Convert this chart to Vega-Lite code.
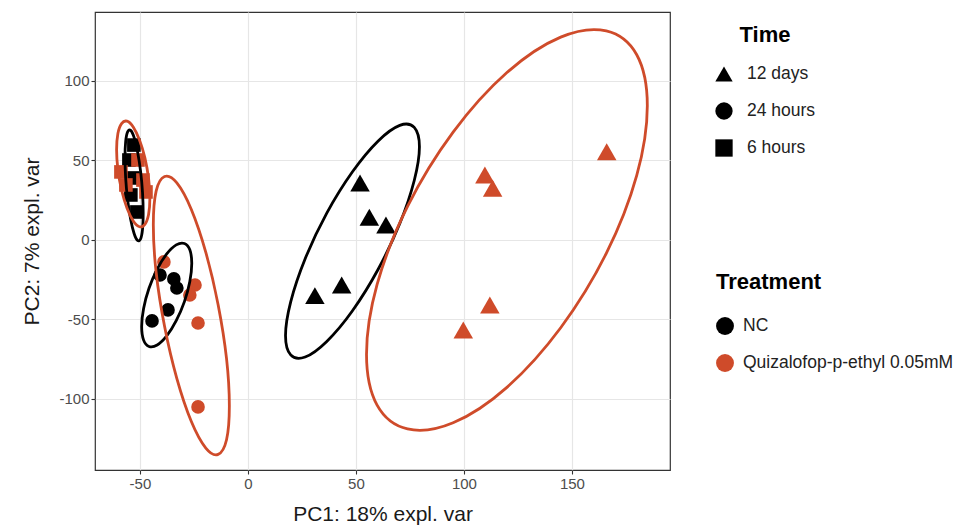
{
  "$schema": "https://vega.github.io/schema/vega-lite/v6.json",
  "width": 575,
  "height": 458,
  "autosize": {"type": "none"},
  "padding": {"left": 95, "top": 12, "right": 299, "bottom": 61},
  "background": "white",
  "config": {
    "font": "Liberation Sans",
    "view": {"stroke": "#333333", "strokeWidth": 1.2},
    "axis": {
      "domain": false,
      "grid": true,
      "gridColor": "#E6E6E6",
      "gridWidth": 1.2,
      "tickColor": "#333333",
      "tickSize": 4,
      "tickWidth": 1.1,
      "labelColor": "#4D4D4D",
      "labelFontSize": 15,
      "labelPadding": 2,
      "titleFontSize": 21,
      "titleFontWeight": "normal",
      "titleColor": "#1a1a1a"
    },
    "legend": {
      "padding": 0,
      "titleFontSize": 22,
      "titleFontWeight": "bold",
      "titleColor": "#000000",
      "labelFontSize": 17.5,
      "labelColor": "#222222",
      "labelLimit": 400
    }
  },
  "datasets": {
    "pts": [
      {"PC1": 51.9, "PC2": 35.8, "Treatment": "NC", "Time": "12 days"},
      {"PC1": 56.2, "PC2": 14.3, "Treatment": "NC", "Time": "12 days"},
      {"PC1": 63.9, "PC2": 9.4, "Treatment": "NC", "Time": "12 days"},
      {"PC1": 43.4, "PC2": -28.3, "Treatment": "NC", "Time": "12 days"},
      {"PC1": 31.0, "PC2": -35.0, "Treatment": "NC", "Time": "12 days"},
      {"PC1": 166.1, "PC2": 55.5, "Treatment": "Quizalofop-p-ethyl 0.05mM", "Time": "12 days"},
      {"PC1": 109.7, "PC2": 40.9, "Treatment": "Quizalofop-p-ethyl 0.05mM", "Time": "12 days"},
      {"PC1": 113.3, "PC2": 32.5, "Treatment": "Quizalofop-p-ethyl 0.05mM", "Time": "12 days"},
      {"PC1": 112.0, "PC2": -40.9, "Treatment": "Quizalofop-p-ethyl 0.05mM", "Time": "12 days"},
      {"PC1": 99.7, "PC2": -56.6, "Treatment": "Quizalofop-p-ethyl 0.05mM", "Time": "12 days"},
      {"PC1": -40.7, "PC2": -22.0, "Treatment": "NC", "Time": "24 hours"},
      {"PC1": -34.3, "PC2": -24.5, "Treatment": "NC", "Time": "24 hours"},
      {"PC1": -32.9, "PC2": -30.2, "Treatment": "NC", "Time": "24 hours"},
      {"PC1": -37.0, "PC2": -44.0, "Treatment": "NC", "Time": "24 hours"},
      {"PC1": -44.4, "PC2": -50.9, "Treatment": "NC", "Time": "24 hours"},
      {"PC1": -38.9, "PC2": -13.8, "Treatment": "Quizalofop-p-ethyl 0.05mM", "Time": "24 hours"},
      {"PC1": -24.5, "PC2": -28.3, "Treatment": "Quizalofop-p-ethyl 0.05mM", "Time": "24 hours"},
      {"PC1": -26.9, "PC2": -34.6, "Treatment": "Quizalofop-p-ethyl 0.05mM", "Time": "24 hours"},
      {"PC1": -23.1, "PC2": -52.2, "Treatment": "Quizalofop-p-ethyl 0.05mM", "Time": "24 hours"},
      {"PC1": -23.1, "PC2": -105.0, "Treatment": "Quizalofop-p-ethyl 0.05mM", "Time": "24 hours"},
      {"PC1": -55.1, "PC2": 50.3, "Treatment": "NC", "Time": "6 hours"},
      {"PC1": -53.2, "PC2": 39.0, "Treatment": "NC", "Time": "6 hours"},
      {"PC1": -54.2, "PC2": 28.3, "Treatment": "NC", "Time": "6 hours"},
      {"PC1": -51.4, "PC2": 17.6, "Treatment": "NC", "Time": "6 hours"},
      {"PC1": -52.8, "PC2": 59.7, "Treatment": "NC", "Time": "6 hours"},
      {"PC1": -58.8, "PC2": 42.8, "Treatment": "Quizalofop-p-ethyl 0.05mM", "Time": "6 hours"},
      {"PC1": -56.5, "PC2": 34.6, "Treatment": "Quizalofop-p-ethyl 0.05mM", "Time": "6 hours"},
      {"PC1": -48.6, "PC2": 37.7, "Treatment": "Quizalofop-p-ethyl 0.05mM", "Time": "6 hours"},
      {"PC1": -47.2, "PC2": 30.2, "Treatment": "Quizalofop-p-ethyl 0.05mM", "Time": "6 hours"},
      {"PC1": -50.9, "PC2": 50.3, "Treatment": "Quizalofop-p-ethyl 0.05mM", "Time": "6 hours"}
    ],
    "ell": [
      {"group": "NC12", "Treatment": "NC", "i": 1, "PC1": 79.4, "PC2": 58.6},
      {"group": "NC12", "Treatment": "NC", "i": 2, "PC1": 77.0, "PC2": 70.8},
      {"group": "NC12", "Treatment": "NC", "i": 3, "PC1": 70.3, "PC2": 72.1},
      {"group": "NC12", "Treatment": "NC", "i": 4, "PC1": 60.3, "PC2": 62.3},
      {"group": "NC12", "Treatment": "NC", "i": 5, "PC1": 48.4, "PC2": 42.9},
      {"group": "NC12", "Treatment": "NC", "i": 6, "PC1": 36.5, "PC2": 16.9},
      {"group": "NC12", "Treatment": "NC", "i": 7, "PC1": 26.5, "PC2": -11.8},
      {"group": "NC12", "Treatment": "NC", "i": 8, "PC1": 19.8, "PC2": -38.9},
      {"group": "NC12", "Treatment": "NC", "i": 9, "PC1": 17.4, "PC2": -60.1},
      {"group": "NC12", "Treatment": "NC", "i": 10, "PC1": 19.8, "PC2": -72.3},
      {"group": "NC12", "Treatment": "NC", "i": 11, "PC1": 26.5, "PC2": -73.6},
      {"group": "NC12", "Treatment": "NC", "i": 12, "PC1": 36.5, "PC2": -63.8},
      {"group": "NC12", "Treatment": "NC", "i": 13, "PC1": 48.4, "PC2": -44.5},
      {"group": "NC12", "Treatment": "NC", "i": 14, "PC1": 60.3, "PC2": -18.4},
      {"group": "NC12", "Treatment": "NC", "i": 15, "PC1": 70.3, "PC2": 10.3},
      {"group": "NC12", "Treatment": "NC", "i": 16, "PC1": 77.0, "PC2": 37.4},
      {"group": "NC24", "Treatment": "NC", "i": 1, "PC1": -26.0, "PC2": -14.7},
      {"group": "NC24", "Treatment": "NC", "i": 2, "PC1": -26.9, "PC2": -6.2},
      {"group": "NC24", "Treatment": "NC", "i": 3, "PC1": -29.4, "PC2": -2.2},
      {"group": "NC24", "Treatment": "NC", "i": 4, "PC1": -33.2, "PC2": -3.1},
      {"group": "NC24", "Treatment": "NC", "i": 5, "PC1": -37.6, "PC2": -8.8},
      {"group": "NC24", "Treatment": "NC", "i": 6, "PC1": -42.0, "PC2": -18.4},
      {"group": "NC24", "Treatment": "NC", "i": 7, "PC1": -45.8, "PC2": -30.4},
      {"group": "NC24", "Treatment": "NC", "i": 8, "PC1": -48.3, "PC2": -43.1},
      {"group": "NC24", "Treatment": "NC", "i": 9, "PC1": -49.2, "PC2": -54.5},
      {"group": "NC24", "Treatment": "NC", "i": 10, "PC1": -48.3, "PC2": -63.0},
      {"group": "NC24", "Treatment": "NC", "i": 11, "PC1": -45.8, "PC2": -67.0},
      {"group": "NC24", "Treatment": "NC", "i": 12, "PC1": -42.0, "PC2": -66.1},
      {"group": "NC24", "Treatment": "NC", "i": 13, "PC1": -37.6, "PC2": -60.4},
      {"group": "NC24", "Treatment": "NC", "i": 14, "PC1": -33.2, "PC2": -50.8},
      {"group": "NC24", "Treatment": "NC", "i": 15, "PC1": -29.4, "PC2": -38.8},
      {"group": "NC24", "Treatment": "NC", "i": 16, "PC1": -26.9, "PC2": -26.1},
      {"group": "NC6", "Treatment": "NC", "i": 1, "PC1": -48.5, "PC2": 16.9},
      {"group": "NC6", "Treatment": "NC", "i": 2, "PC1": -48.8, "PC2": 29.8},
      {"group": "NC6", "Treatment": "NC", "i": 3, "PC1": -49.7, "PC2": 43.3},
      {"group": "NC6", "Treatment": "NC", "i": 4, "PC1": -51.1, "PC2": 55.5},
      {"group": "NC6", "Treatment": "NC", "i": 5, "PC1": -52.7, "PC2": 64.5},
      {"group": "NC6", "Treatment": "NC", "i": 6, "PC1": -54.3, "PC2": 68.9},
      {"group": "NC6", "Treatment": "NC", "i": 7, "PC1": -55.7, "PC2": 68.0},
      {"group": "NC6", "Treatment": "NC", "i": 8, "PC1": -56.6, "PC2": 62.0},
      {"group": "NC6", "Treatment": "NC", "i": 9, "PC1": -56.9, "PC2": 51.8},
      {"group": "NC6", "Treatment": "NC", "i": 10, "PC1": -56.6, "PC2": 38.8},
      {"group": "NC6", "Treatment": "NC", "i": 11, "PC1": -55.7, "PC2": 25.3},
      {"group": "NC6", "Treatment": "NC", "i": 12, "PC1": -54.3, "PC2": 13.1},
      {"group": "NC6", "Treatment": "NC", "i": 13, "PC1": -52.7, "PC2": 4.1},
      {"group": "NC6", "Treatment": "NC", "i": 14, "PC1": -51.1, "PC2": -0.3},
      {"group": "NC6", "Treatment": "NC", "i": 15, "PC1": -49.7, "PC2": 0.6},
      {"group": "NC6", "Treatment": "NC", "i": 16, "PC1": -48.8, "PC2": 6.6},
      {"group": "Q12", "Treatment": "Quizalofop-p-ethyl 0.05mM", "i": 1, "PC1": 184.9, "PC2": 84.5},
      {"group": "Q12", "Treatment": "Quizalofop-p-ethyl 0.05mM", "i": 2, "PC1": 180.0, "PC2": 116.5},
      {"group": "Q12", "Treatment": "Quizalofop-p-ethyl 0.05mM", "i": 3, "PC1": 165.9, "PC2": 131.5},
      {"group": "Q12", "Treatment": "Quizalofop-p-ethyl 0.05mM", "i": 4, "PC1": 144.8, "PC2": 127.6},
      {"group": "Q12", "Treatment": "Quizalofop-p-ethyl 0.05mM", "i": 5, "PC1": 119.9, "PC2": 105.3},
      {"group": "Q12", "Treatment": "Quizalofop-p-ethyl 0.05mM", "i": 6, "PC1": 95.0, "PC2": 67.8},
      {"group": "Q12", "Treatment": "Quizalofop-p-ethyl 0.05mM", "i": 7, "PC1": 73.9, "PC2": 21.1},
      {"group": "Q12", "Treatment": "Quizalofop-p-ethyl 0.05mM", "i": 8, "PC1": 59.8, "PC2": -28.0},
      {"group": "Q12", "Treatment": "Quizalofop-p-ethyl 0.05mM", "i": 9, "PC1": 54.9, "PC2": -71.9},
      {"group": "Q12", "Treatment": "Quizalofop-p-ethyl 0.05mM", "i": 10, "PC1": 59.8, "PC2": -103.9},
      {"group": "Q12", "Treatment": "Quizalofop-p-ethyl 0.05mM", "i": 11, "PC1": 73.9, "PC2": -118.9},
      {"group": "Q12", "Treatment": "Quizalofop-p-ethyl 0.05mM", "i": 12, "PC1": 95.0, "PC2": -115.0},
      {"group": "Q12", "Treatment": "Quizalofop-p-ethyl 0.05mM", "i": 13, "PC1": 119.9, "PC2": -92.7},
      {"group": "Q12", "Treatment": "Quizalofop-p-ethyl 0.05mM", "i": 14, "PC1": 144.8, "PC2": -55.2},
      {"group": "Q12", "Treatment": "Quizalofop-p-ethyl 0.05mM", "i": 15, "PC1": 165.9, "PC2": -8.5},
      {"group": "Q12", "Treatment": "Quizalofop-p-ethyl 0.05mM", "i": 16, "PC1": 180.0, "PC2": 40.6},
      {"group": "Q24", "Treatment": "Quizalofop-p-ethyl 0.05mM", "i": 1, "PC1": -8.6, "PC2": -104.5},
      {"group": "Q24", "Treatment": "Quizalofop-p-ethyl 0.05mM", "i": 2, "PC1": -9.9, "PC2": -74.7},
      {"group": "Q24", "Treatment": "Quizalofop-p-ethyl 0.05mM", "i": 3, "PC1": -13.8, "PC2": -40.7},
      {"group": "Q24", "Treatment": "Quizalofop-p-ethyl 0.05mM", "i": 4, "PC1": -19.5, "PC2": -7.8},
      {"group": "Q24", "Treatment": "Quizalofop-p-ethyl 0.05mM", "i": 5, "PC1": -26.2, "PC2": 19.2},
      {"group": "Q24", "Treatment": "Quizalofop-p-ethyl 0.05mM", "i": 6, "PC1": -32.9, "PC2": 35.9},
      {"group": "Q24", "Treatment": "Quizalofop-p-ethyl 0.05mM", "i": 7, "PC1": -38.6, "PC2": 39.9},
      {"group": "Q24", "Treatment": "Quizalofop-p-ethyl 0.05mM", "i": 8, "PC1": -42.5, "PC2": 30.7},
      {"group": "Q24", "Treatment": "Quizalofop-p-ethyl 0.05mM", "i": 9, "PC1": -43.8, "PC2": 9.5},
      {"group": "Q24", "Treatment": "Quizalofop-p-ethyl 0.05mM", "i": 10, "PC1": -42.5, "PC2": -20.3},
      {"group": "Q24", "Treatment": "Quizalofop-p-ethyl 0.05mM", "i": 11, "PC1": -38.6, "PC2": -54.3},
      {"group": "Q24", "Treatment": "Quizalofop-p-ethyl 0.05mM", "i": 12, "PC1": -32.9, "PC2": -87.2},
      {"group": "Q24", "Treatment": "Quizalofop-p-ethyl 0.05mM", "i": 13, "PC1": -26.2, "PC2": -114.2},
      {"group": "Q24", "Treatment": "Quizalofop-p-ethyl 0.05mM", "i": 14, "PC1": -19.5, "PC2": -130.9},
      {"group": "Q24", "Treatment": "Quizalofop-p-ethyl 0.05mM", "i": 15, "PC1": -13.8, "PC2": -134.9},
      {"group": "Q24", "Treatment": "Quizalofop-p-ethyl 0.05mM", "i": 16, "PC1": -9.9, "PC2": -125.7},
      {"group": "Q6", "Treatment": "Quizalofop-p-ethyl 0.05mM", "i": 1, "PC1": -45.4, "PC2": 26.2},
      {"group": "Q6", "Treatment": "Quizalofop-p-ethyl 0.05mM", "i": 2, "PC1": -46.0, "PC2": 38.7},
      {"group": "Q6", "Treatment": "Quizalofop-p-ethyl 0.05mM", "i": 3, "PC1": -47.7, "PC2": 51.6},
      {"group": "Q6", "Treatment": "Quizalofop-p-ethyl 0.05mM", "i": 4, "PC1": -50.2, "PC2": 62.9},
      {"group": "Q6", "Treatment": "Quizalofop-p-ethyl 0.05mM", "i": 5, "PC1": -53.1, "PC2": 71.1},
      {"group": "Q6", "Treatment": "Quizalofop-p-ethyl 0.05mM", "i": 6, "PC1": -56.0, "PC2": 74.7},
      {"group": "Q6", "Treatment": "Quizalofop-p-ethyl 0.05mM", "i": 7, "PC1": -58.5, "PC2": 73.2},
      {"group": "Q6", "Treatment": "Quizalofop-p-ethyl 0.05mM", "i": 8, "PC1": -60.2, "PC2": 67.0},
      {"group": "Q6", "Treatment": "Quizalofop-p-ethyl 0.05mM", "i": 9, "PC1": -60.8, "PC2": 56.8},
      {"group": "Q6", "Treatment": "Quizalofop-p-ethyl 0.05mM", "i": 10, "PC1": -60.2, "PC2": 44.3},
      {"group": "Q6", "Treatment": "Quizalofop-p-ethyl 0.05mM", "i": 11, "PC1": -58.5, "PC2": 31.4},
      {"group": "Q6", "Treatment": "Quizalofop-p-ethyl 0.05mM", "i": 12, "PC1": -56.0, "PC2": 20.1},
      {"group": "Q6", "Treatment": "Quizalofop-p-ethyl 0.05mM", "i": 13, "PC1": -53.1, "PC2": 11.9},
      {"group": "Q6", "Treatment": "Quizalofop-p-ethyl 0.05mM", "i": 14, "PC1": -50.2, "PC2": 8.3},
      {"group": "Q6", "Treatment": "Quizalofop-p-ethyl 0.05mM", "i": 15, "PC1": -47.7, "PC2": 9.8},
      {"group": "Q6", "Treatment": "Quizalofop-p-ethyl 0.05mM", "i": 16, "PC1": -46.0, "PC2": 16.0}
    ],
    "minorx": [{"v": -25}, {"v": 25}, {"v": 75}, {"v": 125}, {"v": 175}],
    "minory": [{"v": -125}, {"v": -75}, {"v": -25}, {"v": 25}, {"v": 75}, {"v": 125}]
  },
  "layer": [
    {
      "data": {"name": "minorx"},
      "mark": {"type": "rule", "color": "#EEEEEE", "strokeWidth": 0.6},
      "encoding": {"x": {"field": "v", "type": "quantitative"}}
    },
    {
      "data": {"name": "minory"},
      "mark": {"type": "rule", "color": "#EEEEEE", "strokeWidth": 0.6},
      "encoding": {"y": {"field": "v", "type": "quantitative"}}
    },
    {
      "data": {"name": "pts"},
      "transform": [{"filter": "datum.Time !== '12 days'"}],
      "mark": {"type": "point", "filled": true, "opacity": 1, "size": 185},
      "encoding": {
        "x": {"field": "PC1", "type": "quantitative"},
        "y": {"field": "PC2", "type": "quantitative"},
        "color": {
          "field": "Treatment",
          "type": "nominal",
          "title": "Treatment",
          "scale": {"domain": ["NC", "Quizalofop-p-ethyl 0.05mM"], "range": ["#000000", "#CF4B2A"]},
          "legend": {
            "orient": "none",
            "legendX": 621,
            "legendY": 260,
            "symbolType": "circle",
            "symbolSize": 320,
            "symbolStrokeWidth": 0,
            "titleAnchor": "start",
            "titlePadding": 23,
            "rowPadding": 19,
            "labelOffset": 9
          }
        },
        "shape": {
          "field": "Time",
          "type": "nominal",
          "title": "Time",
          "scale": {"domain": ["12 days", "24 hours", "6 hours"], "range": ["triangle-up", "circle", "square"]},
          "legend": {
            "orient": "none",
            "legendX": 620,
            "legendY": 13,
            "symbolSize": 300,
            "symbolFillColor": "#000000",
            "symbolStrokeWidth": 0,
            "titleAnchor": "middle",
            "titlePadding": 18,
            "rowPadding": 19,
            "labelOffset": 14
          }
        }
      }
    },
    {
      "data": {"name": "pts"},
      "transform": [{"filter": "datum.Time === '12 days'"}],
      "mark": {"type": "point", "filled": true, "opacity": 1, "size": 380},
      "encoding": {
        "x": {"field": "PC1", "type": "quantitative"},
        "y": {"field": "PC2", "type": "quantitative"},
        "color": {
          "field": "Treatment",
          "type": "nominal",
          "scale": {"domain": ["NC", "Quizalofop-p-ethyl 0.05mM"], "range": ["#000000", "#CF4B2A"]}
        },
        "shape": {
          "field": "Time",
          "type": "nominal",
          "scale": {"domain": ["12 days", "24 hours", "6 hours"], "range": ["triangle-up", "circle", "square"]}
        }
      }
    },
    {
      "data": {"name": "ell"},
      "mark": {"type": "line", "interpolate": "cardinal-closed", "strokeWidth": 2.8, "point": false},
      "encoding": {
        "x": {"field": "PC1", "type": "quantitative"},
        "y": {"field": "PC2", "type": "quantitative"},
        "detail": {"field": "group", "type": "nominal"},
        "order": {"field": "i", "type": "quantitative"},
        "stroke": {
          "field": "Treatment",
          "type": "nominal",
          "legend": null,
          "scale": {"domain": ["NC", "Quizalofop-p-ethyl 0.05mM"], "range": ["#000000", "#CF4B2A"]}
        }
      }
    }
  ],
  "encoding": {
    "x": {
      "field": "PC1",
      "type": "quantitative",
      "title": "PC1: 18% expl. var",
      "scale": {"domain": [-70.8, 195.4], "nice": false, "zero": false},
      "axis": {"values": [-50, 0, 50, 100, 150], "titlePadding": 12, "labelExpr": "replace(datum.label, '\u2212', '-')"}
    },
    "y": {
      "field": "PC2",
      "type": "quantitative",
      "title": "PC2: 7% expl. var",
      "scale": {"domain": [-144.7, 143.4], "nice": false, "zero": false},
      "axis": {"values": [-100, -50, 0, 50, 100], "titlePadding": 16, "labelExpr": "replace(datum.label, '\u2212', '-')"}
    }
  }
}
